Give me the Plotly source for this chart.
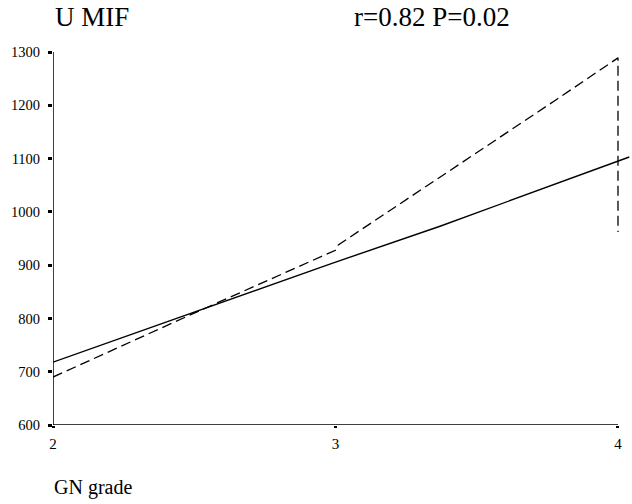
import plotly.graph_objects as go

# data
solid_x = [2.0, 2.98, 3.37, 4.0, 4.04]
solid_y = [718, 902, 973, 1094, 1103]
dash_x = [2.0, 2.5, 3.0, 3.01, 3.78, 4.0, 4.0]
dash_y = [690, 810, 928, 938, 1210, 1289, 962]
x_ticks = [2, 3, 4]
y_ticks = [600, 700, 800, 900, 1000, 1100, 1200, 1300]

FONT = "Times New Roman"

fig = go.Figure()
fig.add_trace(go.Scatter(x=solid_x, y=solid_y, mode="lines",
                         line=dict(color="black", width=1.4), cliponaxis=False))
fig.add_trace(go.Scatter(x=dash_x, y=dash_y, mode="lines",
                         line=dict(color="black", width=1.3, dash="10px,5px"), cliponaxis=False))

# axis lines
fig.add_shape(type="line", x0=x_ticks[0], x1=x_ticks[-1], y0=y_ticks[0], y1=y_ticks[0],
              xref="x", yref="y", line=dict(color="black", width=1.5))
fig.add_shape(type="line", x0=x_ticks[0], x1=x_ticks[0], y0=y_ticks[0], y1=y_ticks[-1],
              xref="x", yref="y", line=dict(color="black", width=1.5))

fig.update_layout(
    width=632, height=504,
    margin=dict(l=53, r=0, t=52, b=79),
    paper_bgcolor="white", plot_bgcolor="white",
    showlegend=False,
    font=dict(family=FONT, color="black"),
    xaxis=dict(range=[2, 4.0496], tickvals=x_ticks, ticktext=[str(v) for v in x_ticks],
               showgrid=False, zeroline=False, showline=False,
               ticks="outside", ticklen=2, tickwidth=3, tickcolor="black",
               ticklabelstandoff=3,
               tickfont=dict(family=FONT, size=15)),
    yaxis=dict(range=[600, 1300], tickvals=y_ticks, ticktext=[str(v) for v in y_ticks],
               showgrid=False, zeroline=False, showline=False,
               ticks="outside", ticklen=4, tickwidth=3, tickcolor="black",
               ticklabelstandoff=5,
               tickfont=dict(family=FONT, size=14.5)),
    annotations=[
        dict(text="U MIF", x=53, y=17),
        dict(text="r=0.82 P=0.02", x=352, y=17),
        dict(text="GN grade", x=52, y=488),
    ],
)

# convert pixel-positioned annotations to paper coordinates
pw, ph = 632 - 53 - 0, 504 - 52 - 79
sizes = [27, 27, 20]
for ann, s in zip(fig.layout.annotations, sizes):
    px, py = ann.x, ann.y
    ann.update(xref="paper", yref="paper", showarrow=False,
               x=(px - 53) / pw, y=(504 - 79 - py) / ph,
               xanchor="left", yanchor="middle",
               font=dict(family=FONT, size=s, color="black"))

fig.write_html("out.html")
